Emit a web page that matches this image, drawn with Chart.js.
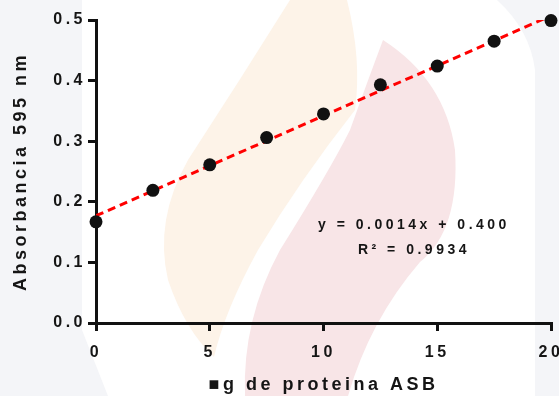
<!DOCTYPE html>
<html>
<head>
<meta charset="utf-8">
<script src="https://cdn.jsdelivr.net/npm/chart.js@4/dist/chart.umd.min.js"></script>
<style>
html,body{margin:0;padding:0;background:#fff;}
canvas{display:block;}
</style>
</head>
<body>
<canvas id="c" width="559" height="396"></canvas>
<script>
// ---- data ----
const proteinUg = [0, 2.5, 5, 7.5, 10, 12.5, 15, 17.5, 20];
const absorbance = [0.167, 0.219, 0.261, 0.306, 0.345, 0.393, 0.424, 0.465, 0.499];
const trendX = [0, 20];
const trendY = [0.177, 0.507];
const xTickLabels = ['0', '5', '10', '15', '20'];
const yTickLabels = ['0.0', '0.1', '0.2', '0.3', '0.4', '0.5'];
const equationLines = ['y = 0.0014x + 0.400', 'R\u00B2 = 0.9934'];
const xTitle = '\u25A0g de proteina ASB';
const yTitle = 'Absorbancia 595 nm';

const FONT = '"Liberation Sans", Arial, sans-serif';
const SPACING = '3.5px';

const spacingPlugin = {
  id: 'spacing',
  beforeLayout(chart) { chart.ctx.letterSpacing = SPACING; },
  beforeDraw(chart) { chart.ctx.letterSpacing = SPACING; }
};

const backgroundPlugin = {
  id: 'bgShapes',
  beforeDraw(chart) {
    const ctx = chart.ctx;
    ctx.save();
    ctx.fillStyle = '#ffffff';
    ctx.fillRect(0, 0, chart.width, chart.height);
    // grey side bands
    ctx.fillStyle = '#f4f5f8';
    ctx.beginPath();
    ctx.moveTo(0, 0); ctx.lineTo(82, 0); ctx.lineTo(82, 330);
    ctx.lineTo(108, 396); ctx.lineTo(0, 396); ctx.closePath(); ctx.fill();
    ctx.beginPath();
    ctx.moveTo(497, 0); ctx.lineTo(559, 0); ctx.lineTo(559, 396); ctx.lineTo(535, 396);
    ctx.lineTo(535, 70); ctx.quadraticCurveTo(530, 30, 497, 0); ctx.closePath(); ctx.fill();
    // orange leaf
    ctx.fillStyle = '#fdf3e8';
    ctx.beginPath();
    ctx.moveTo(290, 0); ctx.lineTo(347, 0);
    ctx.quadraticCurveTo(362, 60, 355, 110);
    ctx.quadraticCurveTo(300, 180, 258, 250);
    ctx.quadraticCurveTo(225, 310, 214, 357);
    ctx.quadraticCurveTo(185, 330, 168, 280);
    ctx.quadraticCurveTo(154, 220, 188, 160);
    ctx.quadraticCurveTo(240, 80, 290, 0);
    ctx.closePath(); ctx.fill();
    // pink leaf
    ctx.fillStyle = '#f8e5e7';
    ctx.beginPath();
    ctx.moveTo(383, 40);
    ctx.quadraticCurveTo(445, 80, 455, 150);
    ctx.quadraticCurveTo(460, 230, 420, 262);
    ctx.quadraticCurveTo(370, 320, 348, 396);
    ctx.lineTo(245, 396);
    ctx.quadraticCurveTo(242, 320, 280, 250);
    ctx.quadraticCurveTo(330, 170, 350, 130);
    ctx.quadraticCurveTo(368, 80, 383, 40);
    ctx.closePath(); ctx.fill();
    ctx.restore();
    chart.ctx.letterSpacing = SPACING;
  }
};

const equationPlugin = {
  id: 'equation',
  afterDatasetsDraw(chart, args, opts) {
    const ctx = chart.ctx;
    const xs = chart.scales.x, ys = chart.scales.y;
    ctx.save();
    ctx.font = 'bold 14px ' + FONT;
    ctx.letterSpacing = SPACING;
    ctx.fillStyle = '#151515';
    ctx.textAlign = 'center';
    ctx.textBaseline = 'middle';
    const cx = xs.getPixelForValue(opts.x) + 1.75;
    equationLines.forEach((t, i) => {
      ctx.fillText(t, cx, ys.getPixelForValue(opts.y[i]));
    });
    ctx.restore();
  }
};

new Chart(document.getElementById('c'), {
  type: 'scatter',
  data: {
    datasets: [
      {
        label: 'Absorbancia',
        data: proteinUg.map((x, i) => ({x: x, y: absorbance[i]})),
        backgroundColor: '#111111',
        borderWidth: 0,
        pointRadius: 6.5,
        pointHoverRadius: 6.5,
        clip: false,
        order: 0
      },
      {
        type: 'line',
        label: 'Tendencia',
        data: trendX.map((x, i) => ({x: x, y: trendY[i]})),
        borderColor: '#ff0000',
        borderWidth: 3,
        borderDash: [8, 5],
        pointRadius: 0,
        fill: false,
        order: 1
      }
    ]
  },
  options: {
    responsive: false,
    animation: false,
    events: [],
    layout: {padding: {top: 20, right: 8, left: 0, bottom: 0}},
    plugins: {
      legend: {display: false},
      tooltip: {enabled: false},
      equation: {x: 13.9, y: [0.162, 0.120]}
    },
    scales: {
      x: {
        type: 'linear',
        min: 0, max: 20,
        ticks: {
          stepSize: 5,
          color: '#151515',
          font: {family: FONT, size: 16, weight: 'bold'},
          padding: 12,
          maxRotation: 0,
          callback: (v) => xTickLabels[Math.round(v / 5)]
        },
        grid: {display: true, drawOnChartArea: false, drawTicks: true, tickLength: 8, color: '#111', lineWidth: 3},
        border: {display: true, color: '#111', width: 3},
        title: {display: true, text: xTitle, color: '#151515', font: {family: FONT, size: 18, weight: 'bold'}, padding: {top: 0, bottom: 0}},
        afterFit(s) { s.height = 73; s.paddingLeft = 0; s.paddingRight = 0; }
      },
      y: {
        type: 'linear',
        min: 0, max: 0.5,
        ticks: {
          stepSize: 0.1,
          color: '#151515',
          font: {family: FONT, size: 16, weight: 'bold'},
          padding: 2,
          callback: (v) => yTickLabels[Math.round(v * 10)]
        },
        grid: {display: true, drawOnChartArea: false, drawTicks: true, tickLength: 8, color: '#111', lineWidth: 3},
        border: {display: true, color: '#111', width: 3},
        title: {display: true, text: yTitle, color: '#151515', font: {family: FONT, size: 18, weight: 'bold'}, padding: {top: 10, bottom: 0}},
        afterFit(s) { s.width = 96; s.paddingTop = 0; s.paddingBottom = 0; }
      }
    }
  },
  plugins: [backgroundPlugin, spacingPlugin, equationPlugin]
});
</script>
</body>
</html>
